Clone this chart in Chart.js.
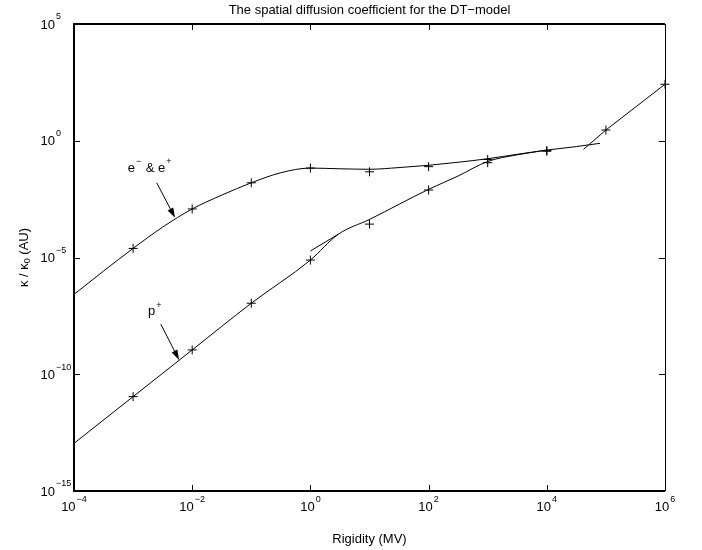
<!DOCTYPE html>
<html lang="en">
<head>
<meta charset="UTF-8">
<title>Spatial diffusion coefficient, DT-model</title>
<script src="https://cdn.jsdelivr.net/npm/chart.js"></script>
<style>
  body { margin: 0; background: #fff; }
  #wrap { width: 702px; height: 550px; }
</style>
</head>
<body>
<div id="wrap"><canvas id="kappa"></canvas></div>
<script>
// values (rigidity in MV, kappa/kappa0 in AU)
const eRigidity = [1e-4, 3.16e-4, 1e-3, 3.16e-3, 1e-2, 3.16e-2, 0.1, 0.316, 1, 3.16, 10, 31.6, 100, 316, 1000, 3162, 1e4, 31623, 79433];
const eKappa    = [2.63e-7, 2.63e-6, 2.45e-5, 2.0e-4, 1.2e-3, 4.68e-3, 1.58e-2, 4.27e-2, 6.76e-2, 6.3e-2, 6.0e-2, 7.1e-2, 8.9e-2, 0.12, 0.17, 0.263, 0.398, 0.562, 0.776];

const pRigidity = [1e-4, 1e-3, 1e-2, 0.1, 1, 2.95, 10, 100, 316, 1000, 3162, 1e4];
const pKappa    = [1.1e-13, 1.1e-11, 1.1e-9, 1.1e-7, 7.76e-6, 9.8e-5, 4.27e-4, 8.3e-3, 3.1e-2, 0.13, 0.25, 0.398];

// short extra segment near 1 MV
const midRigidity = [1, 2.95];
const midKappa    = [1.9e-5, 9.8e-5];

// high rigidity branch
const hiRigidity = [41687, 1e5, 1e6];
const hiKappa    = [0.427, 2.88, 263];

// + markers
const markRigidity = [1e-3, 1e-2, 0.1, 1, 10, 100, 1000, 1e4];
const eMarkKappa   = [2.45e-5, 1.2e-3, 1.58e-2, 6.76e-2, 4.68e-2, 7.76e-2, 0.158, 0.355];
const pMarkKappa   = [1.1e-11, 1.1e-9, 1.1e-7, 7.76e-6, 2.69e-4, 7.76e-3, 0.115, 0.38];
const hiMarkRigidity = [1e5, 1e6];
const hiMarkKappa    = [2.88, 263];

const xTickExp = [-4, -2, 0, 2, 4, 6];
const yTickExp = [-15, -10, -5, 0, 5];

const FONT = '"Liberation Sans", Arial, Helvetica, sans-serif';

function pts(xs, ys) {
  return xs.map((x, i) => ({ x: x, y: ys[i] }));
}

function lineSet(xs, ys, mode) {
  return {
    data: pts(xs, ys),
    borderColor: '#000',
    borderWidth: 1,
    pointRadius: 0,
    fill: false,
    cubicInterpolationMode: mode || 'default',
    tension: 0
  };
}

function markSet(xs, ys) {
  return {
    data: pts(xs, ys),
    showLine: false,
    pointStyle: 'cross',
    pointRadius: 4.5,
    pointBorderWidth: 1,
    pointBorderColor: '#000',
    clip: false
  };
}

// draw "base" with a raised small exponent, starting at x
function powText(ctx, base, exp, x, y, raise) {
  ctx.font = '13px ' + FONT;
  ctx.textAlign = 'left';
  ctx.textBaseline = 'middle';
  ctx.fillText(base, x, y);
  const w = ctx.measureText(base).width;
  ctx.font = '9px ' + FONT;
  ctx.fillText(exp, x + w + 1, y - raise);
  return w + 1 + ctx.measureText(exp).width;
}

function expLabel(e) {
  return e < 0 ? '\u2212' + Math.abs(e) : String(e);
}

function arrow(ctx, x0, y0, x1, y1) {
  const a = Math.atan2(y1 - y0, x1 - x0);
  const len = 10, hw = 3.2;
  ctx.beginPath();
  ctx.moveTo(x0, y0);
  ctx.lineTo(x1 - len * Math.cos(a), y1 - len * Math.sin(a));
  ctx.stroke();
  ctx.beginPath();
  ctx.moveTo(x1, y1);
  ctx.lineTo(x1 - len * Math.cos(a) + hw * Math.sin(a), y1 - len * Math.sin(a) - hw * Math.cos(a));
  ctx.lineTo(x1 - len * Math.cos(a) - hw * Math.sin(a), y1 - len * Math.sin(a) + hw * Math.cos(a));
  ctx.closePath();
  ctx.fill();
}

const frame = {
  id: 'frame',
  afterDraw(chart) {
    const ctx = chart.ctx;
    const a = chart.chartArea;
    const xs = chart.scales.x, ys = chart.scales.y;
    ctx.save();
    ctx.strokeStyle = '#000';
    ctx.fillStyle = '#000';

    // box
    ctx.lineWidth = 2;
    ctx.beginPath();
    ctx.moveTo(a.right, a.top); ctx.lineTo(a.left, a.top);
    ctx.lineTo(a.left, a.bottom); ctx.lineTo(a.right, a.bottom);
    ctx.stroke();
    ctx.lineWidth = 1;
    ctx.beginPath();
    ctx.moveTo(a.right + 0.5, a.top); ctx.lineTo(a.right + 0.5, a.bottom);
    ctx.stroke();

    // inward ticks
    ctx.lineWidth = 1;
    ctx.beginPath();
    xTickExp.forEach(e => {
      const x = Math.round(xs.getPixelForValue(Math.pow(10, e))) + 0.5;
      ctx.moveTo(x, a.bottom); ctx.lineTo(x, a.bottom - 6);
      ctx.moveTo(x, a.top); ctx.lineTo(x, a.top + 6);
    });
    yTickExp.forEach(e => {
      const y = Math.round(ys.getPixelForValue(Math.pow(10, e))) + 0.5;
      ctx.moveTo(a.left, y); ctx.lineTo(a.left + 6, y);
      ctx.moveTo(a.right, y); ctx.lineTo(a.right - 6, y);
    });
    ctx.stroke();

    // tick labels
    xTickExp.forEach(e => {
      const x = xs.getPixelForValue(Math.pow(10, e));
      ctx.font = '13px ' + FONT;
      const w1 = ctx.measureText('10').width;
      ctx.font = '9px ' + FONT;
      const w2 = ctx.measureText(expLabel(e)).width;
      powText(ctx, '10', expLabel(e), x - (w1 + 1 + w2) / 2, a.bottom + 16, 7);
    });
    yTickExp.forEach(e => {
      const y = ys.getPixelForValue(Math.pow(10, e));
      ctx.font = '13px ' + FONT;
      const w1 = ctx.measureText('10').width;
      powText(ctx, '10', expLabel(e), 55 - w1, y + 1, 8);
    });

    // titles
    ctx.font = '13px ' + FONT;
    ctx.textAlign = 'center';
    ctx.textBaseline = 'middle';
    const cx = (a.left + a.right) / 2;
    ctx.fillText('The spatial diffusion coefficient for the DT\u2212model', cx, 10);
    ctx.fillText('Rigidity (MV)', cx, 539);

    // y axis title with subscript
    ctx.save();
    ctx.translate(24, (a.top + a.bottom) / 2);
    ctx.rotate(-Math.PI / 2);
    const p1 = '\u03ba / \u03ba', sub = '0', p2 = ' (AU)';
    ctx.font = '13px ' + FONT;
    const w1 = ctx.measureText(p1).width, w3 = ctx.measureText(p2).width;
    ctx.font = '9px ' + FONT;
    const w2 = ctx.measureText(sub).width;
    const sx = -(w1 + w2 + w3) / 2;
    ctx.textAlign = 'left';
    ctx.font = '13px ' + FONT;
    ctx.fillText(p1, sx, 0);
    ctx.font = '9px ' + FONT;
    ctx.fillText(sub, sx + w1, 4);
    ctx.font = '13px ' + FONT;
    ctx.fillText(p2, sx + w1 + w2, 0);
    ctx.restore();

    // annotations
    const px = v => xs.getPixelForValue(v), py = v => ys.getPixelForValue(v);
    const ex = px(8.1e-4), ey = py(6.8e-2);
    let w = powText(ctx, 'e', '\u2212', ex, ey, 6);
    powText(ctx, ' & e', '+', ex + w + 1, ey, 6);
    powText(ctx, 'p', '+', px(1.78e-3), py(4.8e-8), 6);

    ctx.lineWidth = 1;
    arrow(ctx, px(2.51e-3), py(1.58e-2), px(5.13e-3), py(5.0e-4));
    arrow(ctx, px(2.95e-3), py(1.38e-8), px(6.0e-3), py(4.1e-10));
    ctx.restore();
  }
};

new Chart(document.getElementById('kappa'), {
  type: 'line',
  data: {
    datasets: [
      lineSet(eRigidity, eKappa, 'monotone'),
      lineSet(pRigidity, pKappa, 'monotone'),
      lineSet(midRigidity, midKappa),
      lineSet(hiRigidity, hiKappa),
      markSet(markRigidity, eMarkKappa),
      markSet(markRigidity, pMarkKappa),
      markSet(hiMarkRigidity, hiMarkKappa)
    ]
  },
  options: {
    responsive: true,
    maintainAspectRatio: false,
    animation: false,
    layout: { padding: { left: 74, right: 37, top: 24, bottom: 59 } },
    scales: {
      x: { type: 'logarithmic', min: 1e-4, max: 1e6, display: false },
      y: { type: 'logarithmic', min: 1e-15, max: 1e5, display: false }
    },
    plugins: {
      legend: { display: false },
      tooltip: { enabled: false },
      title: { display: false }
    }
  },
  plugins: [frame]
});
</script>
</body>
</html>
